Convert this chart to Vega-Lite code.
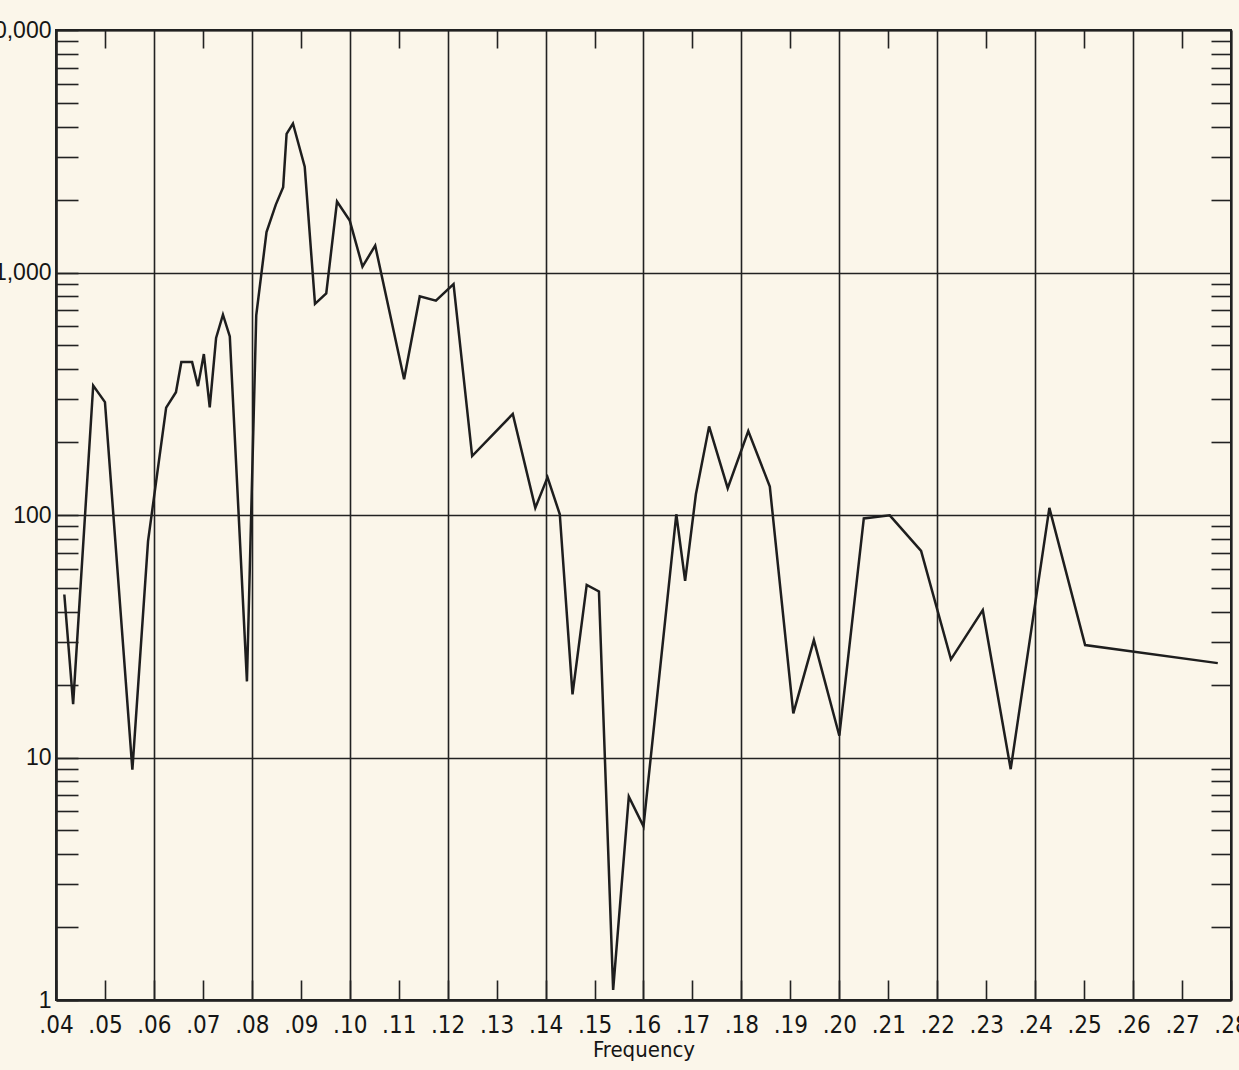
{
  "$schema": "https://vega.github.io/schema/vega-lite/v6.json",
  "width": 1175,
  "height": 970,
  "autosize": {"type": "none"},
  "padding": {"left": 56, "top": 30, "right": 8, "bottom": 70},
  "background": "#fbf6ea",
  "config": {"view": {"stroke": "#222222", "strokeWidth": 2}},
  "data": {
    "values": [
      {"frequency": 0.0417, "spectrogram": 47},
      {"frequency": 0.0435, "spectrogram": 16.6},
      {"frequency": 0.0476, "spectrogram": 342},
      {"frequency": 0.0500, "spectrogram": 292},
      {"frequency": 0.0556, "spectrogram": 8.9},
      {"frequency": 0.0588, "spectrogram": 78},
      {"frequency": 0.0625, "spectrogram": 277},
      {"frequency": 0.0645, "spectrogram": 321},
      {"frequency": 0.0656, "spectrogram": 427},
      {"frequency": 0.0678, "spectrogram": 427},
      {"frequency": 0.0690, "spectrogram": 340},
      {"frequency": 0.0702, "spectrogram": 461},
      {"frequency": 0.0714, "spectrogram": 278},
      {"frequency": 0.0727, "spectrogram": 537},
      {"frequency": 0.0741, "spectrogram": 670},
      {"frequency": 0.0755, "spectrogram": 545},
      {"frequency": 0.0790, "spectrogram": 20.6},
      {"frequency": 0.0809, "spectrogram": 665},
      {"frequency": 0.0830, "spectrogram": 1468},
      {"frequency": 0.0849, "spectrogram": 1905},
      {"frequency": 0.0864, "spectrogram": 2249},
      {"frequency": 0.0871, "spectrogram": 3733},
      {"frequency": 0.0884, "spectrogram": 4115},
      {"frequency": 0.0908, "spectrogram": 2731},
      {"frequency": 0.0929, "spectrogram": 742},
      {"frequency": 0.0952, "spectrogram": 820},
      {"frequency": 0.0974, "spectrogram": 1960},
      {"frequency": 0.1000, "spectrogram": 1637},
      {"frequency": 0.1026, "spectrogram": 1058},
      {"frequency": 0.1052, "spectrogram": 1291},
      {"frequency": 0.1111, "spectrogram": 363},
      {"frequency": 0.1143, "spectrogram": 797},
      {"frequency": 0.1176, "spectrogram": 765},
      {"frequency": 0.1212, "spectrogram": 895},
      {"frequency": 0.1250, "spectrogram": 175},
      {"frequency": 0.1333, "spectrogram": 261},
      {"frequency": 0.1379, "spectrogram": 107},
      {"frequency": 0.1404, "spectrogram": 143},
      {"frequency": 0.1429, "spectrogram": 100.7},
      {"frequency": 0.1455, "spectrogram": 18.2},
      {"frequency": 0.1484, "spectrogram": 51.5},
      {"frequency": 0.1509, "spectrogram": 48.4},
      {"frequency": 0.1538, "spectrogram": 1.1},
      {"frequency": 0.1570, "spectrogram": 6.9},
      {"frequency": 0.1600, "spectrogram": 5.2},
      {"frequency": 0.1667, "spectrogram": 100.7},
      {"frequency": 0.1685, "spectrogram": 53.5},
      {"frequency": 0.1707, "spectrogram": 121.7},
      {"frequency": 0.1734, "spectrogram": 232},
      {"frequency": 0.1772, "spectrogram": 129},
      {"frequency": 0.1814, "spectrogram": 222},
      {"frequency": 0.1858, "spectrogram": 131},
      {"frequency": 0.1906, "spectrogram": 15.2},
      {"frequency": 0.1948, "spectrogram": 30.5},
      {"frequency": 0.2000, "spectrogram": 12.3},
      {"frequency": 0.2050, "spectrogram": 96.8},
      {"frequency": 0.2103, "spectrogram": 99.7},
      {"frequency": 0.2167, "spectrogram": 71.1},
      {"frequency": 0.2228, "spectrogram": 25.4},
      {"frequency": 0.2293, "spectrogram": 40.5},
      {"frequency": 0.2350, "spectrogram": 8.95},
      {"frequency": 0.2429, "spectrogram": 107},
      {"frequency": 0.2502, "spectrogram": 29.1},
      {"frequency": 0.2773, "spectrogram": 24.5}
    ]
  },
  "layer": [
    {
      "mark": {"type": "line", "color": "#1e1e1e", "strokeWidth": 2.5},
      "encoding": {
        "x": {
          "field": "frequency",
          "type": "quantitative",
          "scale": {"domain": [0.04, 0.28], "nice": false, "zero": false},
          "axis": {
            "orient": "bottom",
            "values": [0.04, 0.05, 0.06, 0.07, 0.08, 0.09, 0.10, 0.11, 0.12, 0.13, 0.14, 0.15, 0.16, 0.17, 0.18, 0.19, 0.20, 0.21, 0.22, 0.23, 0.24, 0.25, 0.26, 0.27, 0.28],
            "labelExpr": "replace(format(datum.value, '.2f'), '0.', '.')",
            "labelFont": "DejaVu Sans Condensed",
            "labelFontSize": 24,
            "labelColor": "#151515",
            "labelFlush": false,
            "labelOverlap": false,
            "labelPadding": 33,
            "tickSize": -20,
            "tickWidth": 1.6,
            "tickColor": "#222222",
            "domain": true,
            "domainColor": "#222222",
            "domainWidth": 2.5,
            "grid": true,
            "gridColor": "#222222",
            "gridWidth": 1.6,
            "gridOpacity": {"condition": {"test": "round(datum.value * 100) % 2 === 0", "value": 1}, "value": 0},
            "title": "Frequency",
            "titleFont": "DejaVu Sans Condensed",
            "titleFontSize": 22,
            "titleFontWeight": "normal",
            "titleColor": "#151515",
            "titlePadding": 2
          }
        },
        "y": {
          "field": "spectrogram",
          "type": "quantitative",
          "scale": {"type": "log", "domain": [1, 10000], "nice": false},
          "axis": {
            "orient": "left",
            "values": [1, 2, 3, 4, 5, 6, 7, 8, 9, 10, 20, 30, 40, 50, 60, 70, 80, 90, 100, 200, 300, 400, 500, 600, 700, 800, 900, 1000, 2000, 3000, 4000, 5000, 6000, 7000, 8000, 9000, 10000],
            "labelExpr": "indexof([1, 10, 100, 1000, 10000], datum.value) >= 0 ? format(datum.value, ',') : ''",
            "labelFont": "Liberation Sans",
            "labelFontSize": 23,
            "labelColor": "#151515",
            "labelOverlap": false,
            "labelFlush": false,
            "labelPadding": 27,
            "tickSize": -22,
            "tickWidth": 1.6,
            "tickColor": "#222222",
            "domain": true,
            "domainColor": "#222222",
            "domainWidth": 2.5,
            "grid": true,
            "gridColor": "#222222",
            "gridWidth": 1.6,
            "gridOpacity": {"condition": {"test": "indexof([1, 10, 100, 1000, 10000], datum.value) >= 0", "value": 1}, "value": 0},
            "title": null
          }
        }
      }
    },
    {
      "mark": {"type": "line", "opacity": 0},
      "encoding": {
        "x": {
          "field": "frequency",
          "type": "quantitative",
          "scale": {"domain": [0.04, 0.28], "nice": false, "zero": false},
          "axis": {
            "orient": "top",
            "values": [0.05, 0.07, 0.09, 0.11, 0.13, 0.15, 0.17, 0.19, 0.21, 0.23, 0.25, 0.27],
            "labels": false,
            "tickSize": -18,
            "tickWidth": 1.6,
            "tickColor": "#222222",
            "domain": true,
            "domainColor": "#222222",
            "domainWidth": 2,
            "grid": false,
            "title": null
          }
        },
        "y": {
          "field": "spectrogram",
          "type": "quantitative",
          "scale": {"type": "log", "domain": [1, 10000], "nice": false},
          "axis": {
            "orient": "right",
            "values": [2, 3, 4, 5, 6, 7, 8, 9, 20, 30, 40, 50, 60, 70, 80, 90, 200, 300, 400, 500, 600, 700, 800, 900, 2000, 3000, 4000, 5000, 6000, 7000, 8000, 9000],
            "labels": false,
            "tickSize": -20,
            "tickWidth": 1.6,
            "tickColor": "#222222",
            "domain": true,
            "domainColor": "#222222",
            "domainWidth": 2,
            "grid": false,
            "title": null
          }
        }
      }
    }
  ],
  "resolve": {"scale": {"x": "independent", "y": "independent"}}
}
